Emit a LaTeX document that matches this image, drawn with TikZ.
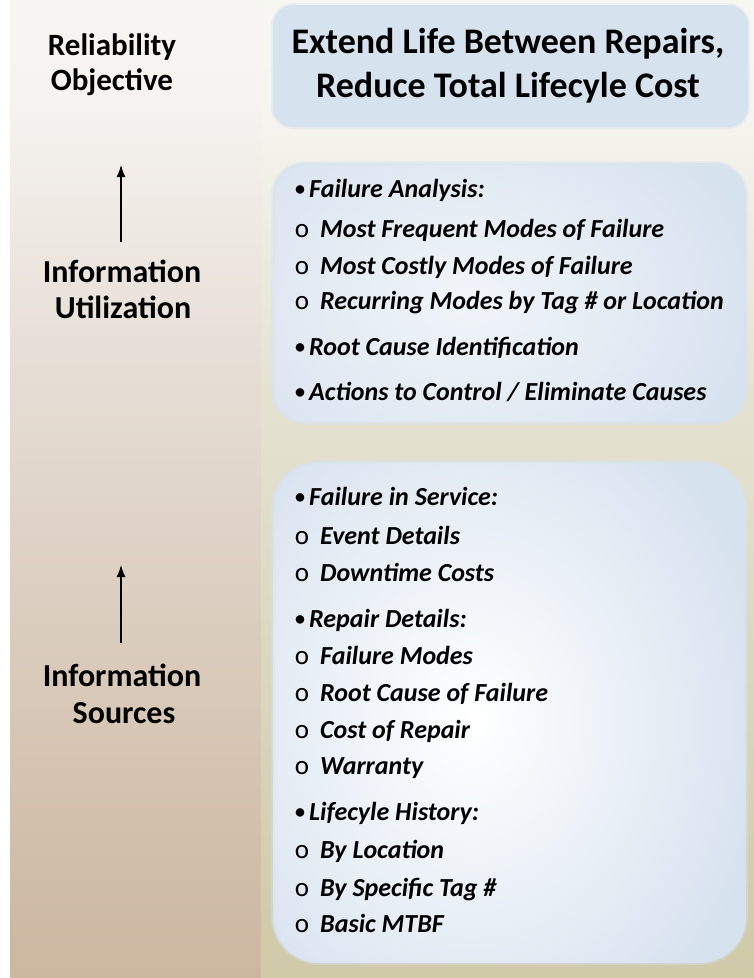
\documentclass[tikz,border=0pt]{standalone}
\usepackage{fontspec}
\setmainfont{Carlito}
\usetikzlibrary{arrows.meta}
\definecolor{boxblue}{RGB}{215,226,239}
\definecolor{bandtop}{RGB}{255,255,255}
\definecolor{bandhigh}{RGB}{246,243,240}
\definecolor{bandmid}{RGB}{229,220,211}
\definecolor{bandlow}{RGB}{206,186,164}
\definecolor{bandbot}{RGB}{189,163,132}
\definecolor{backtop}{RGB}{255,255,255}
\definecolor{backhigh}{RGB}{246,245,240}
\definecolor{backmid}{RGB}{229,226,210}
\definecolor{backlow}{RGB}{210,204,172}
\definecolor{backbot}{RGB}{191,182,142}
\pgfdeclareverticalshading{leftband}{100bp}{color(0bp)=(bandbot); color(28bp)=(bandlow); color(55bp)=(bandmid); color(70bp)=(bandhigh); color(100bp)=(bandtop)}
\pgfdeclareverticalshading{rightback}{100bp}{color(0bp)=(backbot); color(28bp)=(backlow); color(55bp)=(backmid); color(70bp)=(backhigh); color(100bp)=(backtop)}
\newcommand{\bul}{\llap{\upshape\fontsize{20}{20}\selectfont\raisebox{2pt}{\textbullet}\hspace{4pt}}}
\newcommand{\subbul}{\llap{\upshape\mdseries\fontsize{27}{27}\selectfont o\hspace{11pt}}}
\tikzset{
  label/.style={font=\fontsize{32}{36}\selectfont\bfseries, inner sep=0pt, anchor=base},
  title/.style={font=\fontsize{36}{40}\selectfont\bfseries, inner sep=0pt, anchor=base},
  item/.style={font=\fontsize{26}{30}\selectfont\bfseries\itshape, inner sep=0pt, anchor=base west},
  arr/.style={-{Latex[length=12pt,width=9pt]}, line width=1.3pt}
}
\begin{document}
\begin{tikzpicture}[x=1pt, y=-1pt]
\useasboundingbox (0,0) rectangle (754,978);
% background
\fill[white] (0,0) rectangle (754,978);
\shade[shading=leftband] (10,0) rectangle (261,978);
\shade[shading=rightback] (261,0) rectangle (754,978);
% top box
\fill[boxblue, rounded corners=20pt] (273,5) rectangle (748,127);
\draw[boxblue, line width=4pt, opacity=0.4, rounded corners=20pt] (273,5) rectangle (748,127);
% middle box
\begin{scope}
  \clip[rounded corners=32pt] (273,163) rectangle (746,423);
  \fill[boxblue] (273,163) rectangle (746,423);
  \shade[inner color=boxblue!35!white, outer color=boxblue] (470,300) ellipse (300 and 220);
\end{scope}
\draw[boxblue, line width=4pt, opacity=0.4, rounded corners=32pt] (273,163) rectangle (746,423);
% bottom box
\begin{scope}
  \clip[rounded corners=46pt] (273,462) rectangle (746,963);
  \fill[boxblue] (273,462) rectangle (746,963);
  \shade[inner color=white, outer color=boxblue] (472,720) ellipse (300 and 360);
\end{scope}
\draw[boxblue, line width=4pt, opacity=0.4, rounded corners=46pt] (273,462) rectangle (746,963);
% left labels
\node[label, font=\fontsize{31}{35}\selectfont\bfseries] (relia) at (112,55) {Reliability};
\node[label, font=\fontsize{31}{35}\selectfont\bfseries] (objec) at (112,90) {Objective};
\node[label] (info1) at (122,282) {Information};
\node[label] (utili) at (123,318) {Utilization};
\node[label] (info2) at (122,686) {Information};
\node[label] (sourc) at (124,723) {Sources};
% arrows
\coordinate (utilTail) at (121,242);
\coordinate (utilHead) at (121,165);
\coordinate (srcTail) at (121,643);
\coordinate (srcHead) at (121,565);
\draw[arr] (utilTail) -- (utilHead);
\draw[arr] (srcTail) -- (srcHead);
% objective
\node[title] (goal1) at (508,53) {Extend Life Between Repairs,};
\node[title] (goal2) at (508,97) {Reduce Total Lifecyle Cost};
% utilization
\node[item] (fa) at (309,197) {\bul Failure Analysis:};
\node[item] (mf) at (320,237) {\subbul Most Frequent Modes of Failure};
\node[item] (mc) at (320,274) {\subbul Most Costly Modes of Failure};
\node[item] (rm) at (320,309) {\subbul Recurring Modes by Tag \# or Location};
\node[item] (rc) at (309,355) {\bul Root Cause Identification};
\node[item] (ac) at (309,400) {\bul Actions to Control / Eliminate Causes};
% sources
\node[item] (fs) at (309,505) {\bul Failure in Service:};
\node[item] (ed) at (320,544) {\subbul Event Details};
\node[item] (dc) at (320,581) {\subbul Downtime Costs};
\node[item] (rd) at (309,627) {\bul Repair Details:};
\node[item] (fm) at (320,664) {\subbul Failure Modes};
\node[item] (rf) at (320,701) {\subbul Root Cause of Failure};
\node[item] (cr) at (320,738) {\subbul Cost of Repair};
\node[item] (wa) at (320,774) {\subbul Warranty};
\node[item] (lh) at (309,820) {\bul Lifecyle History:};
\node[item] (bl) at (320,858) {\subbul By Location};
\node[item] (bs) at (320,896) {\subbul By Specific Tag \#};
\node[item] (bm) at (320,932) {\subbul Basic MTBF};
\end{tikzpicture}
\end{document}
